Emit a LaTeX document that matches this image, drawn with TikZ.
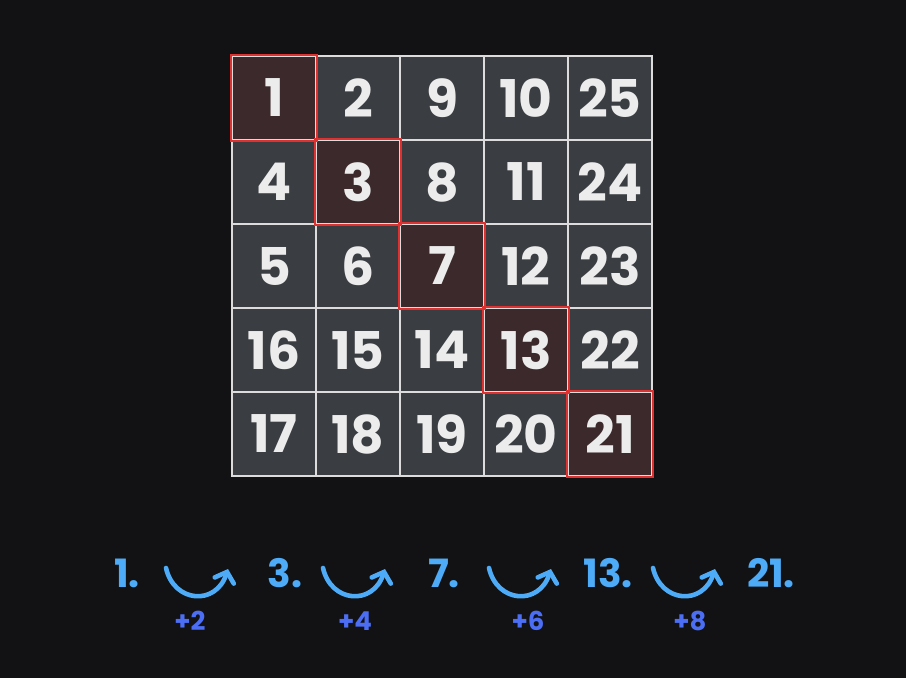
\documentclass[tikz,border=0pt]{standalone}
\usepackage{fontspec}
\setmainfont{Poppins}
\usetikzlibrary{arrows.meta}
\definecolor{bg}{HTML}{121214}
\definecolor{cellfill}{HTML}{3A3D41}
\definecolor{redfill}{HTML}{3B292B}
\definecolor{gridline}{HTML}{DCDCDC}
\definecolor{redline}{HTML}{E03131}
\definecolor{numtext}{HTML}{ECECEC}
\definecolor{lblue}{HTML}{4DABF7}
\definecolor{dblue}{HTML}{4C6EF5}
\tikzset{
  cellbox/.style={draw=gridline, line width=1.6pt, fill=cellfill, minimum width=84pt, minimum height=84pt, inner sep=0pt, text=numtext, font=\fontsize{52}{52}\selectfont\bfseries},
  diagbox/.style={cellbox, fill=redfill},
  redframe/.style={draw=redline, line width=1.8pt},
  stepnum/.style={text=lblue, font=\fontsize{39}{39}\selectfont\bfseries, inner sep=0pt},
  inc/.style={text=dblue, font=\fontsize{26}{26}\selectfont\bfseries, inner sep=0pt},
  jump/.style={draw=lblue, line width=4.6pt, line cap=round, line join=round, -{Straight Barb[length=9pt,width=20pt,line cap=round]}}
}
\begin{document}
\begin{tikzpicture}[x=1pt,y=-1pt]
\fill[bg] (0,0) rectangle (906,678);
\useasboundingbox (0,0) rectangle (906,678);
% grid
\foreach \r/\vals in {0/{1,2,9,10,25},1/{4,3,8,11,24},2/{5,6,7,12,23},3/{16,15,14,13,22},4/{17,18,19,20,21}}{
  \foreach \v [count=\c from 0] in \vals {
    \ifnum\c=\r
      \node[diagbox] (c-\r-\c) at ({274+84*\c},{98+84*\r}) {\v};
    \else
      \node[cellbox] (c-\r-\c) at ({274+84*\c},{98+84*\r}) {\v};
    \fi
  }
}
\foreach \k in {0,...,4}{
  \draw[redframe] (c-\k-\k.north west) rectangle (c-\k-\k.south east);
}
% bottom sequence
\node[stepnum] (s1) at (127,573) {1.};
\node[stepnum] (s3) at (285,573) {3.};
\node[stepnum] (s7) at (444,573) {7.};
\node[stepnum] (s13) at (608,573) {13.};
\node[stepnum] (s21) at (771,573) {21.};
\foreach \n/\x/\t in {1/166/+2,2/323/+4,3/489/+6,4/653/+8}{
  \coordinate (j\n a) at (\x,568);
  \coordinate (j\n b) at (\x+62,569);
  \draw[jump] (j\n a) .. controls (\x+8,603) and (\x+50,606) .. (j\n b);
}
\node[inc] (p2) at (190,621) {+2};
\node[inc] (p4) at (355,621) {+4};
\node[inc] (p6) at (528,621) {+6};
\node[inc] (p8) at (690,621) {+8};
\end{tikzpicture}
\end{document}
